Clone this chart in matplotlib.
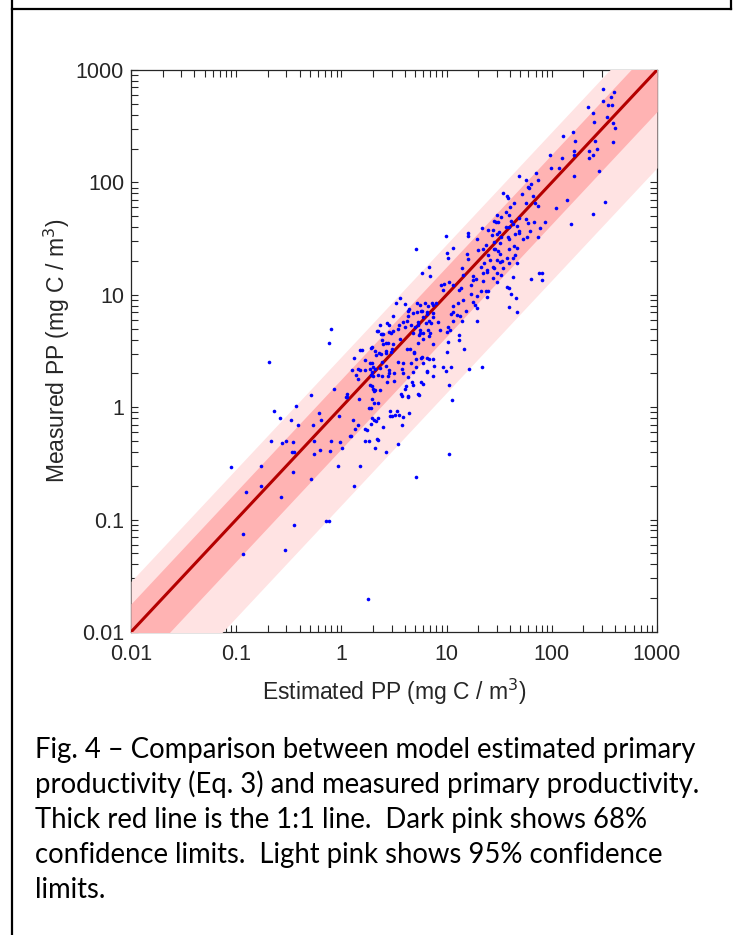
import matplotlib.pyplot as plt
from matplotlib.lines import Line2D
import numpy as np

# values, as (log10 estimated, log10 measured)
low_left = [(-1.05, -0.53), (-0.94, -1.13), (-0.94, -1.31), (-0.91, -0.75), (-0.76, -0.52),
            (-0.76, -0.70), (-0.69, 0.40), (-0.67, -0.30), (-0.64, -0.03), (-0.58, -0.10),
            (-0.57, -0.80), (-0.56, -0.32), (-0.53, -0.30), (-0.54, -1.27), (-0.48, -0.11),
            (-0.46, -0.31), (-0.47, -0.40), (-0.45, -0.40), (-0.46, -0.58), (-0.45, -1.05),
            (-0.43, 0.01), (-0.41, -0.16), (-0.29, 0.11), (-0.29, -0.64), (-0.27, -0.16),
            (-0.26, -0.30), (-0.26, -0.42), (-0.21, -0.05), (-0.20, -0.38), (-0.19, -0.11),
            (-0.15, -1.01), (-0.12, -1.01), (-0.11, -0.39), (-0.10, -0.30), (-0.12, 0.57),
            (-0.10, 0.70), (-0.07, 0.16), (-0.03, -0.52), (-0.02, -0.08), (-0.01, -0.31),
            (0.01, -0.36), (0.25, -1.71), (0.12, -0.70), (0.18, -0.52)]

near_one = [(0.05, 0.12), (0.05, 0.09), (0.11, -0.11), (0.16, -0.16), (0.13, -0.19),
            (0.08, -0.26), (0.24, -0.20), (0.22, -0.30), (0.26, -0.30), (0.32, -0.36),
            (0.34, -0.28), (0.28, -0.15), (0.31, -0.11), (0.35, -0.10), (0.40, -0.18),
            (0.42, -0.40), (0.17, 0.07), (0.12, 0.44), (0.10, 0.33), (0.18, 0.51),
            (0.20, 0.51), (0.16, 0.34), (0.14, 0.29), (0.16, 0.25), (0.22, 0.42),
            (0.27, 0.34), (0.29, 0.31), (0.28, 0.29), (0.27, 0.39), (0.30, 0.36),
            (0.28, 0.53), (0.29, 0.54), (0.34, 0.68), (0.39, 0.60), (0.40, 0.56),
            (0.42, 0.57), (0.36, 0.48), (0.38, 0.47), (0.42, 0.50), (0.35, 0.29),
            (0.38, 0.65), (0.40, 0.65), (0.45, 0.30), (0.45, 0.33), (0.29, 0.19),
            (0.30, 0.16), (0.31, 0.14), (0.32, 0.15), (0.27, 0.20), (0.29, 0.07),
            (0.31, 0.04), (0.35, 0.04), (0.26, -0.01), (0.28, -0.01), (0.46, -0.03),
            (0.46, -0.08), (0.04, 0.09), (0.09, -0.26), (0.22, -0.19), (0.29, -0.10),
            (0.33, -0.12), (0.35, -0.29)]

mid_low = [(0.37, 0.73), (0.43, 0.75), (0.45, 0.73), (0.45, 0.67), (0.47, 0.66),
           (0.49, 0.68), (0.54, 0.70), (0.39, 0.65), (0.35, 0.68), (0.52, 0.93),
           (0.60, 0.92), (0.64, 0.87), (0.49, 0.81), (0.55, 0.73), (0.59, 0.76),
           (0.63, 0.81), (0.68, 0.84), (0.72, 0.85), (0.77, 0.86), (0.81, 0.83),
           (0.83, 0.77), (0.73, 0.73), (0.75, 0.69), (0.78, 0.66), (0.74, 0.64),
           (0.83, 0.63), (0.56, 0.61), (0.49, 0.56), (0.48, 0.52), (0.44, 0.57),
           (0.42, 0.48), (0.47, 0.49), (0.32, 0.50), (0.18, 0.33), (0.22, 0.33),
           (0.29, 0.39), (0.32, 0.34), (0.30, 0.28), (0.37, 0.35), (0.42, 0.37),
           (0.44, 0.28), (0.50, 0.30), (0.50, 0.23), (0.43, 0.22), (0.39, 0.28),
           (0.39, 0.40), (0.33, 0.46), (0.62, 0.52), (0.65, 0.52), (0.69, 0.49),
           (0.66, 0.39), (0.71, 0.43), (0.77, 0.45), (0.81, 0.44), (0.81, 0.32),
           (0.54, 0.40), (0.58, 0.34), (0.63, 0.27), (0.67, 0.22), (0.60, 0.16),
           (0.57, 0.12), (0.63, 0.09), (0.73, 0.12), (0.37, 0.15), (0.48, -0.08),
           (0.53, -0.03), (0.51, -0.07), (0.55, -0.07), (0.59, -0.09), (0.54, -0.33)]

mid = [(0.71, 1.41), (0.99, 1.52), (1.20, 1.55), (1.20, 1.52), (1.34, 1.59),
       (1.39, 1.58), (1.47, 1.65), (1.43, 1.53), (1.48, 1.54), (1.50, 1.56),
       (1.56, 1.60), (1.63, 1.63), (1.65, 1.54), (1.59, 1.50), (1.64, 1.43),
       (1.67, 1.42), (1.29, 1.50), (1.06, 1.42), (1.00, 1.37), (1.01, 1.33),
       (1.19, 1.36), (1.20, 1.32), (1.30, 1.40), (1.35, 1.41), (1.39, 1.35),
       (1.46, 1.41), (1.51, 1.36), (1.51, 1.29), (1.57, 1.33), (1.59, 1.28),
       (1.41, 1.31), (1.36, 1.28), (1.33, 1.25), (1.54, 1.24), (1.45, 1.24),
       (1.48, 1.19), (1.38, 1.20), (0.83, 1.25), (0.77, 1.19), (0.84, 1.17),
       (1.15, 1.24), (1.16, 1.18), (1.25, 1.17), (1.28, 1.14), (1.35, 1.12),
       (1.44, 1.15), (1.48, 1.11), (1.57, 1.07), (1.59, 1.06), (1.66, 0.97),
       (1.59, 0.89), (1.67, 0.85), (0.95, 1.09), (0.98, 1.10), (1.02, 1.11),
       (1.06, 1.09), (0.97, 1.04), (1.12, 1.04), (1.14, 1.06), (1.23, 1.09),
       (1.25, 1.13), (1.33, 1.03), (1.39, 1.03), (1.29, 0.99), (1.23, 1.01),
       (1.25, 0.94), (1.27, 0.91), (1.29, 0.88), (1.16, 0.95), (1.11, 0.93),
       (1.06, 0.90), (1.06, 0.85), (1.04, 0.83), (1.10, 0.82), (1.13, 0.81),
       (1.18, 0.86), (1.15, 0.77), (1.06, 0.77), (1.29, 0.77), (1.01, 0.71),
       (1.03, 0.69), (1.00, 0.67)]

mid_b = [(0.56, 0.97), (0.63, 0.86), (0.62, 0.77), (0.72, 0.93), (0.75, 0.91),
         (0.79, 0.93), (0.82, 0.90), (0.86, 0.93), (0.87, 0.91), (0.90, 0.93),
         (0.76, 0.86), (0.81, 0.85), (0.87, 0.84), (0.87, 0.80), (0.78, 0.80),
         (0.73, 0.76), (0.70, 0.71), (0.66, 0.73), (0.60, 0.71), (0.80, 0.75),
         (0.85, 0.75), (0.82, 0.69), (0.92, 0.76), (0.94, 0.69), (0.75, 0.66),
         (0.68, 0.66), (0.84, 0.66), (0.78, 0.61), (0.87, 0.56), (0.73, 0.57),
         (1.12, 0.64), (1.12, 0.60), (1.17, 0.52), (1.01, 0.58), (0.69, 0.48),
         (0.59, 0.39), (0.71, 0.36), (0.76, 0.44), (0.83, 0.43), (0.87, 0.43),
         (0.88, 0.37), (0.81, 0.31), (0.87, 0.28), (0.97, 0.36), (1.04, 0.36),
         (1.21, 0.34), (1.34, 0.36), (0.68, 0.31), (0.59, 0.30), (1.00, 0.49),
         (0.99, 0.32), (1.02, 0.20), (1.05, 0.06), (1.02, -0.42), (0.71, -0.62),
         (0.78, 0.39), (0.61, 0.19), (0.68, 0.20), (0.76, 0.22), (0.78, 0.21),
         (0.74, 0.11), (0.63, 0.10), (0.58, 0.10), (0.64, -0.05), (0.58, -0.16)]

upper = [(2.11, 2.41), (2.20, 2.45), (2.22, 2.37), (2.35, 2.28), (2.21, 2.28),
         (2.21, 2.24), (2.10, 2.22), (1.98, 2.24), (1.99, 2.13), (2.07, 2.13),
         (2.21, 2.06), (1.85, 2.08), (1.69, 2.06), (1.75, 2.02), (1.87, 2.02),
         (1.80, 1.99), (1.77, 1.96), (1.78, 1.95), (1.54, 1.91), (1.57, 1.88),
         (1.58, 1.86), (1.82, 1.88), (1.64, 1.82), (1.75, 1.82), (2.14, 1.84),
         (2.04, 1.77), (1.60, 1.78), (1.56, 1.74), (1.48, 1.71), (1.52, 1.69),
         (1.59, 1.71), (1.45, 1.66), (1.49, 1.65), (1.61, 1.66), (1.69, 1.68),
         (1.75, 1.67), (1.77, 1.64), (1.83, 1.65), (1.94, 1.65), (2.18, 1.63),
         (1.44, 1.58), (1.59, 1.60), (1.67, 1.61), (1.69, 1.57), (1.79, 1.57),
         (1.89, 1.59), (1.52, 1.51), (1.58, 1.51), (1.69, 1.55), (1.73, 1.50),
         (1.76, 1.51), (1.87, 1.51), (1.45, 1.47), (1.51, 1.46), (1.37, 1.44),
         (1.45, 1.41), (1.49, 1.39), (1.59, 1.41), (1.65, 1.35), (1.63, 1.33),
         (1.48, 1.31), (1.53, 1.30), (1.67, 1.28), (1.44, 1.25), (1.38, 1.22),
         (1.35, 1.19), (1.52, 1.18), (1.63, 1.16), (1.80, 1.14), (1.88, 1.19),
         (1.91, 1.19), (1.91, 1.13), (1.61, 1.01), (1.37, 1.03), (1.38, 0.98),
         (1.72, 1.90), (1.84, 1.82), (1.87, 1.79)]

top = [(2.49, 2.83), (2.59, 2.80), (2.56, 2.76), (2.49, 2.72), (2.53, 2.69),
       (2.57, 2.69), (2.34, 2.67), (2.39, 2.62), (2.52, 2.58), (2.40, 2.54),
       (2.58, 2.53), (2.60, 2.48), (2.41, 2.37), (2.58, 2.36), (2.43, 2.30),
       (2.39, 2.24), (2.35, 2.22), (2.45, 2.10), (2.51, 1.83), (2.39, 1.72)]

# confidence bands as log10 offsets from the 1:1 line (low, high)
band68 = (-0.37, 0.25)
band95 = (-0.87, 0.45)
one_to_one = np.array([0.01, 1000])

tick_vals = [0.01, 0.1, 1, 10, 100, 1000]
tick_text = ['0.01', '0.1', '1', '10', '100', '1000']

caption = ['Fig. 4 \u2013 Comparison between model estimated primary',
           'productivity (Eq. 3) and measured primary productivity.',
           'Thick red line is the 1:1 line.  Dark pink shows 68%',
           'confidence limits.  Light pink shows 95% confidence',
           'limits.']

pts = np.array(low_left + near_one + mid_low + mid + mid_b + upper + top)
estimated = 10 ** pts[:, 0]
measured = 10 ** pts[:, 1]

fig = plt.figure(figsize=(7.35, 9.35), dpi=100)
ax = fig.add_axes([131 / 735, 1 - 632 / 935, 526 / 735, 562 / 935])
ax.set_axisbelow(True)

ax.fill_between(one_to_one, one_to_one * 10 ** band95[0], one_to_one * 10 ** band95[1],
                color='#ffe3e3', lw=0, zorder=3)
ax.fill_between(one_to_one, one_to_one * 10 ** band68[0], one_to_one * 10 ** band68[1],
                color='#ffb3b3', lw=0, zorder=3)
ax.plot(one_to_one, one_to_one, color='#b40000', lw=2.2, zorder=4)
ax.plot(estimated, measured, 'o', color='#0000ff', ms=2.6, mec='none', zorder=5)

ax.set_xscale('log')
ax.set_yscale('log')
ax.set_xlim(0.01, 1000)
ax.set_ylim(0.01, 1000)

tfont = dict(family='Liberation Sans', size=15.5, color='#262626')
ax.set_xticks(tick_vals)
ax.set_xticklabels(tick_text, fontdict=tfont)
ax.set_yticks(tick_vals)
ax.set_yticklabels(tick_text, fontdict=tfont)
ax.tick_params(which='both', direction='in', top=True, right=True, length=5,
               width=0.8, color='#262626')
ax.tick_params(axis='x', pad=9)
ax.tick_params(axis='y', pad=5)
for s in ax.spines.values():
    s.set_color('#262626')
    s.set_linewidth(0.9)

lfont = dict(family='Liberation Sans', size=16.5, color='#262626')
ax.set_xlabel('Estimated PP (mg C / m$^3$)', fontdict=lfont)
ax.set_ylabel('Measured PP (mg C / m$^3$)', fontdict=lfont)
ax.xaxis.set_label_coords(0.5, -0.08)
ax.yaxis.set_label_coords(-0.112, 0.5)

# page borders of the document cell
fig.add_artist(Line2D([12 / 735, 731 / 735], [1 - 9 / 935, 1 - 9 / 935], color='black', lw=1.6))
fig.add_artist(Line2D([12 / 735, 12 / 735], [0, 1], color='black', lw=1.6))
fig.add_artist(Line2D([731 / 735, 731 / 735], [1 - 9 / 935, 1], color='black', lw=1.6))

for i, line in enumerate(caption):
    fig.text(35 / 735, 1 - (758 + 35 * i) / 935, line, family='Lato', size=19.8,
             color='black', va='baseline', ha='left')

fig.savefig('out.png', dpi=100)
